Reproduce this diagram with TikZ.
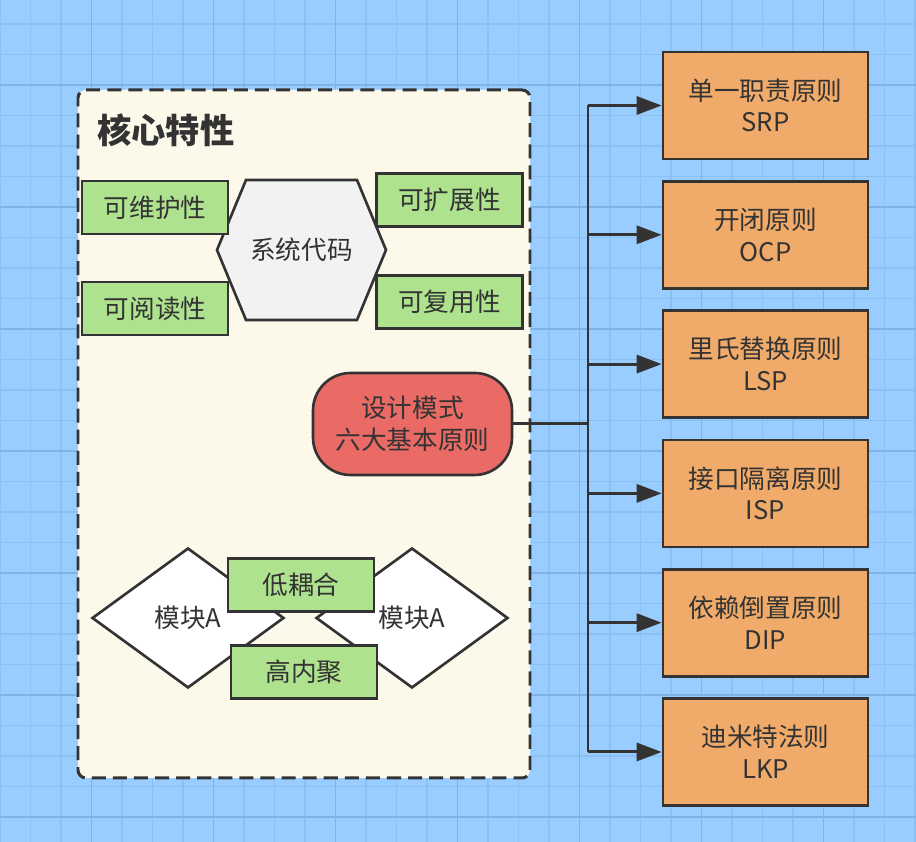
\documentclass[tikz,border=0pt]{standalone}
\usepackage{fontspec}
\setmainfont{Noto Sans CJK SC}
\usetikzlibrary{arrows.meta, shapes.geometric}

\definecolor{bgblue}{HTML}{99CCFF}
\definecolor{gridminor}{HTML}{8CC0F2}
\definecolor{gridmajor}{HTML}{7FB3E6}
\definecolor{cream}{HTML}{FCF9EA}
\definecolor{leaf}{HTML}{AEE28E}
\definecolor{peach}{HTML}{F0AA69}
\definecolor{coral}{HTML}{EA6B66}
\definecolor{hexgray}{HTML}{F2F2F2}
\definecolor{ink}{HTML}{333333}

\begin{document}
\begin{tikzpicture}[
        base/.style={draw=ink, line width=1.5pt, text=ink, align=center,
                     inner sep=0pt, font=\fontsize{14.6}{18}\selectfont},
        gnode/.style={base, fill=leaf, minimum width=2.92cm, minimum height=1.06cm},
        onode/.style={base, fill=peach, minimum width=4.10cm, minimum height=2.14cm},
        dnode/.style={base, diamond, fill=white, minimum width=3.84cm, minimum height=2.80cm},
        rnode/.style={base, fill=coral, rounded corners=0.75cm,
                      minimum width=3.98cm, minimum height=2.04cm},
        frame/.style={draw=ink, fill=cream, line width=1.7pt, dash pattern=on 8pt off 4pt,
                      rounded corners=0.16cm, minimum width=9.04cm, minimum height=13.76cm},
        link/.style={draw=ink, line width=1.7pt},
        >={Triangle[length=0.5cm, width=0.36cm]}
    ]
        \useasboundingbox (0,0) rectangle (18.32,16.84);
        \fill[bgblue] (0,0) rectangle (18.32,16.84);

        % grid
        \foreach \k in {0,...,30}
            \draw[gridminor, line width=0.6pt] ({0.61*\k},0) -- ({0.61*\k},16.84);
        \foreach \k in {0,...,26}
            \draw[gridminor, line width=0.6pt] (0,{16.36-0.61*\k}) -- (18.32,{16.36-0.61*\k});
        \foreach \k in {0,...,6} {
            \draw[gridmajor, line width=0.8pt] ({1.83+2.44*\k},0) -- ({1.83+2.44*\k},16.84);
            \draw[gridmajor, line width=0.8pt] (0,{15.14-2.44*\k}) -- (18.32,{15.14-2.44*\k});
        }

        % core features
        \node[frame] (core) at (6.08,8.16) {};
        \node[anchor=west, inner sep=0pt, text=ink, font=\fontsize{19.5}{23}\selectfont\bfseries]
            (title) at (1.94,14.24) {核心特性};

        \draw[draw=ink, fill=hexgray, line width=1.5pt]
            (6.03,11.84) ++(-1.69,0) -- ++(0.58,1.4) -- ++(2.22,0)
            -- ++(0.58,-1.4) -- ++(-0.58,-1.4) -- ++(-2.22,0) -- cycle;
        \node[base, draw=none] (code) at (6.03,11.84) {系统代码};

        \node[gnode] (maint) at (3.10,12.69) {可维护性};
        \node[gnode] (read)  at (3.10,10.67) {可阅读性};
        \node[gnode] (ext)   at (8.99,12.84) {可扩展性};
        \node[gnode] (reuse) at (8.99,10.80) {可复用性};

        \node[dnode] (modl) at (3.76,4.48) {模块A};
        \node[dnode] (modr) at (8.24,4.48) {模块A};
        \node[gnode] (loose) at (6.02,5.14) {低耦合};
        \node[gnode] (tight) at (6.08,3.40) {高内聚};

        \node[rnode] (rule) at (8.25,8.36) {设计模式\\六大基本原则};

        % six principles
        \coordinate (trunk) at (11.76,8.36);
        \draw[link] (rule.east) -- (trunk);
        \foreach \i/\name/\abbr in {1/单一职责原则/SRP, 2/开闭原则/OCP, 3/里氏替换原则/LSP,
                                    4/接口隔离原则/ISP, 5/依赖倒置原则/DIP, 6/迪米特法则/LKP} {
            \node[onode] (p\i) at (15.31,{14.73-2.586*(\i-1)}) {\name\\\abbr};
            \draw[link, ->] (trunk |- p\i.west) -- (p\i.west);
        }
        \draw[link] (trunk |- p1.west) -- (trunk |- p6.west);
    \end{tikzpicture}
\end{document}
